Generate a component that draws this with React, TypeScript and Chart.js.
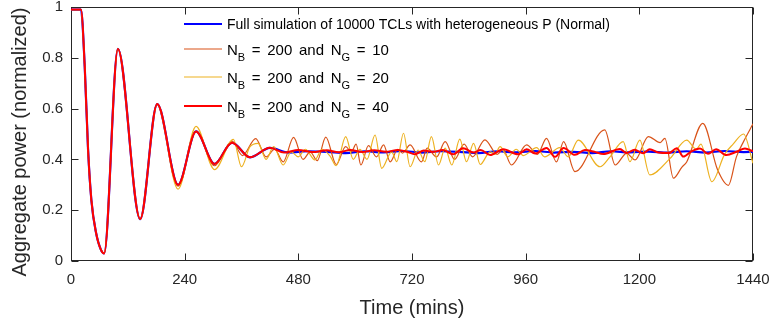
import React, { useEffect, useRef } from "react";
import { Chart, registerables } from "chart.js";

Chart.register(...registerables);

// ---------- data (time in minutes, normalized aggregate power) ----------
const xTickValues = [0, 240, 480, 720, 960, 1200, 1440];
const yTickValues = [0, 0.2, 0.4, 0.6, 0.8, 1];

const seriesLabels = [
  "Full simulation of 10000 TCLs with heterogeneous P (Normal)",
  "N_B = 200 and N_G = 10",
  "N_B = 200 and N_G = 20",
  "N_B = 200 and N_G = 40",
];
const seriesColors = ["#0000FF", "#D95319", "#EDB120", "#FF0000"];

// shared start-up transient (all four curves coincide here)
const transientTime = [0, 21, 29, 36, 43, 53, 63, 70, 99, 146, 182];
const transientValue = [0.99, 0.99, 0.765, 0.44, 0.24, 0.11, 0.045, 0.03, 0.835, 0.165, 0.618];

// full simulation
const fullTime = [226, 264, 303, 340, 378, 420, 460, 500, 540, 580, 620, 660, 700, 740, 780, 820, 860, 900, 940, 980, 1020, 1060, 1100, 1140, 1180, 1220, 1260, 1300, 1340, 1380, 1420, 1440];
const fullValue = [0.3, 0.51, 0.382, 0.466, 0.408, 0.445, 0.427, 0.432, 0.43, 0.425, 0.432, 0.428, 0.433, 0.427, 0.432, 0.43, 0.425, 0.432, 0.428, 0.433, 0.427, 0.43, 0.425, 0.432, 0.428, 0.431, 0.427, 0.432, 0.427, 0.433, 0.429, 0.43];

// N_B = 200, N_G = 10
const ng10Time = [226, 264, 303, 340, 362, 390, 412, 430, 448, 470, 490, 505, 520, 538, 560, 580, 592, 602, 612, 628, 645, 660, 674, 690, 700, 716, 740, 752, 772, 790, 810, 830, 848, 874, 900, 912, 930, 962, 985, 1004, 1025, 1040, 1064, 1127, 1149, 1173, 1191, 1219, 1244, 1254, 1272, 1290, 1300, 1334, 1365, 1388, 1405, 1420, 1440];
const ng10Value = [0.295, 0.51, 0.375, 0.472, 0.415, 0.482, 0.41, 0.44, 0.39, 0.487, 0.4, 0.43, 0.395, 0.488, 0.38, 0.45, 0.43, 0.46, 0.378, 0.454, 0.41, 0.457, 0.39, 0.44, 0.425, 0.457, 0.39, 0.444, 0.41, 0.47, 0.4, 0.46, 0.41, 0.477, 0.42, 0.44, 0.378, 0.457, 0.42, 0.483, 0.39, 0.47, 0.352, 0.516, 0.378, 0.424, 0.398, 0.49, 0.466, 0.483, 0.326, 0.37, 0.39, 0.542, 0.36, 0.298, 0.41, 0.47, 0.54];

// N_B = 200, N_G = 20
const ng20Time = [226, 264, 303, 343, 360, 378, 395, 412, 428, 448, 465, 480, 495, 515, 530, 548, 560, 580, 596, 610, 625, 642, 656, 677, 688, 702, 716, 733, 747, 761, 776, 790, 804, 821, 835, 850, 864, 885, 895, 906, 922, 940, 955, 983, 1000, 1032, 1050, 1071, 1117, 1138, 1166, 1180, 1201, 1222, 1265, 1300, 1320, 1330, 1353, 1380, 1398, 1420, 1440];
const ng20Value = [0.283, 0.53, 0.36, 0.479, 0.371, 0.45, 0.463, 0.4, 0.45, 0.378, 0.43, 0.41, 0.44, 0.398, 0.44, 0.41, 0.375, 0.49, 0.4, 0.44, 0.4, 0.496, 0.365, 0.43, 0.391, 0.503, 0.371, 0.437, 0.391, 0.49, 0.378, 0.444, 0.378, 0.48, 0.391, 0.463, 0.38, 0.43, 0.42, 0.45, 0.41, 0.44, 0.415, 0.446, 0.41, 0.446, 0.41, 0.476, 0.371, 0.41, 0.47, 0.391, 0.476, 0.339, 0.404, 0.476, 0.44, 0.46, 0.312, 0.42, 0.46, 0.5, 0.385];

// N_B = 200, N_G = 40
const ng40Time = [226, 264, 303, 340, 378, 420, 450, 480, 510, 540, 565, 590, 615, 640, 665, 690, 710, 726, 745, 765, 785, 807, 828, 850, 865, 885, 913, 944, 962, 980, 1004, 1022, 1040, 1064, 1085, 1105, 1124, 1159, 1173, 1190, 1208, 1222, 1240, 1262, 1279, 1293, 1310, 1328, 1345, 1362, 1384, 1405, 1423, 1440];
const ng40Value = [0.3, 0.51, 0.382, 0.466, 0.408, 0.446, 0.427, 0.437, 0.429, 0.436, 0.428, 0.437, 0.429, 0.436, 0.43, 0.437, 0.43, 0.42, 0.435, 0.43, 0.437, 0.42, 0.444, 0.427, 0.437, 0.417, 0.44, 0.42, 0.44, 0.423, 0.445, 0.41, 0.445, 0.418, 0.437, 0.43, 0.421, 0.441, 0.425, 0.438, 0.424, 0.44, 0.427, 0.425, 0.444, 0.411, 0.432, 0.443, 0.422, 0.44, 0.417, 0.43, 0.443, 0.432];

// ---------- helpers ----------
const FONT = "'Liberation Sans', Arial, Helvetica, sans-serif";
const TEXT = "#262626";

function toPoints(t1: number[], v1: number[], t2: number[], v2: number[]) {
  const pts: { x: number; y: number }[] = [];
  t1.forEach((t, i) => pts.push({ x: t, y: v1[i] }));
  t2.forEach((t, i) => pts.push({ x: t, y: v2[i] }));
  return pts;
}

// draws TeX-like text: "_X" makes X a subscript; spaces may be widened
function drawTexLabel(ctx: CanvasRenderingContext2D, label: string, x: number, y: number, size: number, extraSpace: number) {
  const parts = label.split(/_(.)/);
  let cx = x;
  parts.forEach((p, i) => {
    const isSub = i % 2 === 1;
    ctx.font = `${isSub ? Math.round(size * 0.75) : size}px ${FONT}`;
    if (isSub) {
      ctx.fillText(p, cx, y + 6);
      cx += ctx.measureText(p).width;
      return;
    }
    const words = p.split(" ");
    const sp = ctx.measureText(" ").width + extraSpace;
    words.forEach((w, k) => {
      if (k > 0) cx += sp;
      if (w) {
        ctx.fillText(w, cx, y);
        cx += ctx.measureText(w).width;
      }
    });
  });
}

const boxPlugin = {
  id: "matlabBox",
  beforeDatasetsDraw(chart: any) {
    const { ctx, chartArea: a, scales } = chart;
    ctx.save();
    ctx.strokeStyle = TEXT;
    ctx.lineWidth = 1;
    const L = Math.round(a.left) + 0.5, R = Math.round(a.right) - 0.5;
    const T = Math.round(a.top) + 0.5, B = Math.round(a.bottom) - 0.5;
    ctx.strokeRect(L, T, R - L, B - T);
    const tl = 7;
    ctx.beginPath();
    xTickValues.forEach((v) => {
      const px = Math.round(scales.x.getPixelForValue(v)) + 0.5;
      ctx.moveTo(px, B); ctx.lineTo(px, B - tl);
      ctx.moveTo(px, T); ctx.lineTo(px, T + tl);
    });
    yTickValues.forEach((v) => {
      const py = Math.round(scales.y.getPixelForValue(v)) + 0.5;
      ctx.moveTo(L, py); ctx.lineTo(L + tl, py);
      ctx.moveTo(R, py); ctx.lineTo(R - tl, py);
    });
    ctx.stroke();
    ctx.restore();
  },
  afterDatasetsDraw(chart: any) {
    const { ctx, chartArea: a } = chart;
    ctx.save();
    // y-axis title
    ctx.fillStyle = TEXT;
    ctx.font = `20px ${FONT}`;
    ctx.textAlign = "center";
    ctx.textBaseline = "alphabetic";
    ctx.translate(25.5, 142);
    ctx.rotate(-Math.PI / 2);
    ctx.fillText("Aggregate power (normalized)", 0, 0);
    ctx.restore();

    // legend
    ctx.save();
    const rows = [a.top + 17, a.top + 42, a.top + 70, a.top + 99];
    const widths = [2, 1.2, 1.2, 2];
    chart.data.datasets.forEach((ds: any, i: number) => {
      const y = rows[i];
      ctx.strokeStyle = seriesColors[i];
      ctx.lineWidth = widths[i];
      ctx.beginPath();
      ctx.moveTo(a.left + 113, y);
      ctx.lineTo(a.left + 151, y);
      ctx.stroke();
      ctx.fillStyle = "#000000";
      ctx.textAlign = "left";
      ctx.textBaseline = "alphabetic";
      if (i === 0) drawTexLabel(ctx, ds.label, a.left + 156, y + 5, 14, 0);
      else drawTexLabel(ctx, ds.label, a.left + 156, y + 5.5, 15, 2.5);
    });
    ctx.restore();
  },
};

export default function App() {
  const ref = useRef<HTMLCanvasElement | null>(null);

  useEffect(() => {
    if (!ref.current) return;
    const datasets = [
      { label: seriesLabels[0], data: toPoints(transientTime, transientValue, fullTime, fullValue), borderColor: seriesColors[0], borderWidth: 2.2, order: 3 },
      { label: seriesLabels[1], data: toPoints(transientTime, transientValue, ng10Time, ng10Value), borderColor: seriesColors[1], borderWidth: 1.2, order: 2 },
      { label: seriesLabels[2], data: toPoints(transientTime, transientValue, ng20Time, ng20Value), borderColor: seriesColors[2], borderWidth: 1.2, order: 1 },
      { label: seriesLabels[3], data: toPoints(transientTime, transientValue, ng40Time, ng40Value), borderColor: seriesColors[3], borderWidth: 2, order: 0 },
    ].map((d) => ({ ...d, pointRadius: 0, fill: false, cubicInterpolationMode: "monotone" as const }));

    const chart = new Chart(ref.current, {
      type: "line",
      data: { datasets },
      options: {
        animation: false,
        responsive: false,
        maintainAspectRatio: false,
        layout: { padding: { left: 0, right: 21, top: 7, bottom: 0 } },
        plugins: { legend: { display: false }, tooltip: { enabled: false } },
        scales: {
          x: {
            type: "linear",
            min: 0,
            max: 1440,
            afterBuildTicks: (s: any) => { s.ticks = xTickValues.map((v) => ({ value: v })); },
            ticks: { color: TEXT, font: { family: FONT, size: 15 }, padding: 10, maxRotation: 0, autoSkip: false, callback: (v: any) => String(v) },
            grid: { display: false, drawTicks: false },
            border: { display: false },
            title: { display: true, text: "Time (mins)", color: TEXT, font: { family: FONT, size: 20 }, padding: { top: 0, bottom: 3 } },
            afterFit: (s: any) => { s.height = 62; s.paddingLeft = 0; s.paddingRight = 0; },
          },
          y: {
            type: "linear",
            min: 0,
            max: 1,
            afterBuildTicks: (s: any) => { s.ticks = yTickValues.map((v) => ({ value: v })); },
            ticks: { color: TEXT, font: { family: FONT, size: 15 }, padding: 8, callback: (v: any) => String(Math.round(Number(v) * 10) / 10) },
            grid: { display: false, drawTicks: false },
            border: { display: false },
            afterFit: (s: any) => { s.width = 71; s.paddingTop = 0; s.paddingBottom = 0; },
          },
        },
      },
      plugins: [boxPlugin],
    });
    return () => chart.destroy();
  }, []);

  return (
    <div style={{ position: "absolute", left: 0, top: 0, width: 774, height: 323, background: "#fff" }}>
      <canvas ref={ref} width={774} height={323} style={{ width: 774, height: 323, display: "block" }} />
    </div>
  );
}
